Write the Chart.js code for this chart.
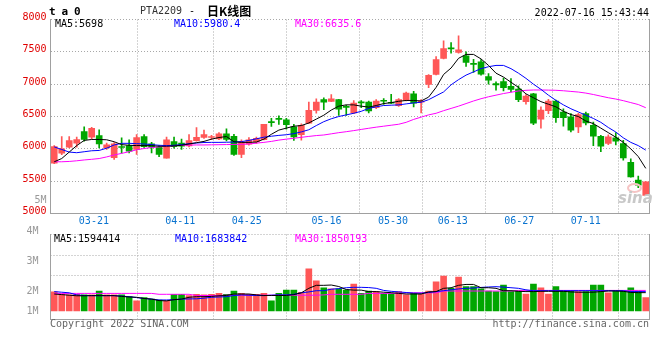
<!DOCTYPE html>
<html>
<head>
<meta charset="utf-8">
<script src="https://cdn.jsdelivr.net/npm/chart.js@4.4.1/dist/chart.umd.min.js"></script>
<style>
html, body { margin: 0; padding: 0; background: #fff; }
#wrap { position: relative; width: 660px; height: 360px; overflow: hidden; }
canvas { position: absolute; left: 0; }
.t { position: absolute; white-space: nowrap; font-family: "DejaVu Sans Mono", monospace; font-size: 10px; line-height: 12px; }
</style>
</head>
<body>
<div id="wrap">
  <canvas id="kline" width="660" height="234" style="top:0"></canvas>
  <canvas id="vol" width="660" height="100" style="top:222px"></canvas>

  <div class="t" style="left:49px;top:5px;font-size:11px;line-height:14px;font-weight:bold;letter-spacing:-0.4px">t a 0</div>
  <div class="t" style="left:140px;top:5px;color:#333">PTA2209</div>
  <div class="t" style="left:189px;top:5px;color:#000">-</div>
  <div class="t" style="left:207px;top:3px;font-family:'Noto Sans CJK SC';font-size:12px;line-height:15px;font-weight:bold;color:#000">日K线图</div>
  <div class="t" style="right:11px;top:7px;color:#000">2022-07-16 15:43:44</div>

  <div class="t" style="left:55px;top:18px;color:#000">MA5:5698</div>
  <div class="t" style="left:174px;top:18px;color:#0000ff">MA10:5980.4</div>
  <div class="t" style="left:295px;top:18px;color:#ff00ff">MA30:6635.6</div>

  <div class="t" style="left:54px;top:233px;color:#000">MA5:1594414</div>
  <div class="t" style="left:175px;top:233px;color:#0000ff">MA10:1683842</div>
  <div class="t" style="left:295px;top:233px;color:#ff00ff">MA30:1850193</div>

  <div class="t" style="left:50px;top:318px;color:#666">Copyright 2022 SINA.COM</div>
  <div class="t" style="right:11px;top:318px;color:#666">http://finance.sina.com.cn</div>

  <div style="position:absolute;left:627px;top:183px;width:11px;height:6px;border:2px solid #f6c4c4;border-radius:50%"></div>
  <div class="t" style="left:618px;top:190px;font-family:'DejaVu Sans';font-size:15px;line-height:16px;font-weight:bold;font-style:italic;color:#c8c8c8">sina</div>
</div>

<script>
// 交易日（03-18 ~ 07-15）
const dates = [
  '03-18','03-21','03-22','03-23','03-24','03-25','03-28','03-29','03-30','03-31',
  '04-01','04-06','04-07','04-08','04-11','04-12','04-13','04-14','04-15','04-18',
  '04-19','04-20','04-21','04-22','04-25','04-26','04-27','04-28','04-29','05-05',
  '05-06','05-09','05-10','05-11','05-12','05-13','05-16','05-17','05-18','05-19',
  '05-20','05-23','05-24','05-25','05-26','05-27','05-30','05-31','06-01','06-02',
  '06-06','06-07','06-08','06-09','06-10','06-13','06-14','06-15','06-16','06-17',
  '06-20','06-21','06-22','06-23','06-24','06-27','06-28','06-29','06-30','07-01',
  '07-04','07-05','07-06','07-07','07-08','07-11','07-12','07-13','07-14','07-15'
];

const open = [
  5780,5932,6025,6087,6265,6180,6205,6015,5862,6030,
  6050,5989,6190,6077,6025,5857,6112,6090,6046,6128,
  6178,6175,6154,6231,6192,5915,6073,6106,6142,6415,
  6465,6449,6342,6218,6395,6595,6760,6734,6760,6656,
  6554,6716,6724,6636,6741,6711,6667,6750,6852,6720,
  6997,7150,7397,7555,7489,7438,7312,7345,7118,7010,
  7040,6965,6925,6730,6850,6460,6590,6740,6570,6495,
  6340,6545,6365,6195,6085,6170,6080,5790,5515,5280
];
const high = [
  6050,6188,6188,6180,6340,6333,6292,6090,6095,6170,
  6140,6220,6220,6100,6050,6180,6180,6150,6220,6330,
  6290,6210,6250,6308,6225,6140,6175,6183,6380,6470,
  6511,6470,6378,6388,6724,6772,6790,6840,6765,6675,
  6748,6748,6740,6760,6776,6842,6778,6878,6888,6760,
  7150,7428,7670,7644,7747,7500,7386,7380,7164,7036,
  7095,7085,6975,6840,6860,6650,6765,6755,6620,6545,
  6550,6570,6415,6210,6215,6250,6130,5845,5580,5495
];
const low = [
  5770,5908,6015,6026,6120,6154,6015,5990,5835,5933,
  5935,5915,6020,5935,5880,5855,6010,5990,6030,6120,
  6160,6140,6140,6123,5900,5865,6055,6085,6137,6346,
  6377,6305,6130,6135,6390,6553,6605,6728,6518,6518,
  6544,6636,6555,6622,6688,6698,6656,6740,6647,6554,
  6945,7143,7390,7479,7480,7273,7180,7140,7000,6907,
  6895,6880,6730,6690,6375,6320,6545,6410,6350,6260,
  6250,6370,6050,5955,6065,6060,5825,5560,5400,5275
];
const close = [
  6035,6000,6128,6144,6145,6318,6077,6060,6077,6020,
  5963,6175,6035,6025,5912,6138,6035,6040,6128,6178,
  6220,6180,6231,6144,5915,6106,6140,6162,6380,6405,
  6455,6372,6185,6364,6595,6724,6720,6775,6615,6640,
  6707,6710,6585,6738,6736,6705,6760,6862,6708,6738,
  7135,7380,7551,7545,7530,7335,7306,7154,7062,6990,
  6945,6920,6760,6815,6395,6600,6740,6480,6480,6290,
  6530,6400,6195,6040,6185,6120,5860,5565,5440,5490
];

const ma5 = [
  5800,5850,5950,6050,6130,6145,6145,6140,6110,6065,
  6055,6050,6050,6048,6040,6040,6045,6055,6075,6095,
  6115,6150,6175,6190,6110,6100,6100,6105,6150,6225,
  6290,6320,6350,6360,6400,6460,6520,6600,6660,6680,
  6680,6660,6645,6670,6700,6715,6735,6748,6748,6740,
  6800,6950,7150,7250,7400,7460,7460,7390,7290,7170,
  7110,7030,6950,6850,6790,6730,6690,6650,6580,6530,
  6500,6430,6390,6320,6250,6180,6100,6000,5880,5698
];
const ma10 = [
  6030,5990,5950,5940,5955,5970,5975,6010,6060,6085,
  6085,6080,6075,6065,6055,6050,6055,6065,6080,6090,
  6098,6100,6100,6102,6105,6112,6130,6155,6180,6195,
  6208,6218,6235,6262,6295,6360,6420,6465,6500,6525,
  6550,6580,6625,6650,6670,6675,6680,6695,6710,6720,
  6760,6820,6880,6990,7070,7140,7190,7240,7270,7290,
  7290,7240,7170,7090,7000,6920,6830,6750,6680,6620,
  6570,6520,6470,6410,6330,6260,6170,6100,6050,5980
];
const ma30 = [
  5800,5800,5805,5815,5828,5838,5850,5875,5905,5930,
  5955,5985,6005,6020,6030,6040,6048,6054,6058,6060,
  6060,6062,6064,6066,6068,6070,6075,6088,6100,6115,
  6135,6150,6163,6178,6192,6205,6214,6232,6250,6265,
  6282,6300,6318,6335,6350,6365,6380,6410,6455,6490,
  6525,6550,6590,6625,6660,6700,6740,6775,6805,6830,
  6855,6875,6895,6905,6910,6910,6908,6905,6898,6888,
  6878,6862,6840,6815,6790,6770,6745,6715,6685,6636
];

// 成交量（百万手，按图上刻度读取）
const volume = [
  2.08,2.01,1.98,2.00,1.98,1.98,2.11,1.98,1.98,1.98,
  1.92,1.78,1.89,1.84,1.81,1.78,2.00,2.00,1.96,2.00,
  1.98,2.00,2.03,2.00,2.11,2.03,2.00,2.00,2.03,1.78,
  2.03,2.14,2.14,2.07,2.85,2.45,2.22,2.18,2.18,2.14,
  2.34,2.03,2.11,2.09,2.03,2.03,2.09,1.98,2.03,2.00,
  2.11,2.42,2.61,2.20,2.58,2.26,2.26,2.18,2.11,2.09,
  2.31,2.09,2.11,2.01,2.34,2.22,2.01,2.26,2.11,2.11,
  2.09,2.09,2.31,2.31,2.05,2.11,2.11,2.22,2.11,1.89
];
const volMa5 = [
  2.01,1.99,1.97,1.95,1.95,1.955,1.955,1.955,1.955,1.93,
  1.91,1.90,1.86,1.84,1.79,1.78,1.82,1.84,1.90,1.92,
  1.92,1.93,1.95,1.96,2.01,2.01,2.01,1.98,1.96,1.96,
  1.96,1.96,1.99,2.05,2.20,2.30,2.30,2.31,2.26,2.16,
  2.14,2.14,2.09,2.09,2.07,2.055,2.03,2.01,2.01,2.01,
  2.08,2.09,2.20,2.22,2.30,2.33,2.33,2.22,2.22,2.20,
  2.12,2.12,2.10,2.09,2.09,2.10,2.10,2.10,2.10,2.08,
  2.07,2.07,2.07,2.09,2.11,2.11,2.10,2.06,2.055,2.055
];
const volMa10 = [
  2.09,2.07,2.05,1.98,1.96,1.955,1.955,1.955,1.955,1.94,
  1.92,1.89,1.86,1.84,1.81,1.81,1.82,1.84,1.845,1.85,
  1.87,1.90,1.91,1.92,1.96,1.98,1.97,1.96,1.955,1.97,
  1.98,1.98,2.00,2.05,2.08,2.12,2.12,2.17,2.19,2.22,
  2.233,2.233,2.225,2.20,2.13,2.10,2.08,2.06,2.04,2.035,
  2.06,2.09,2.12,2.15,2.18,2.20,2.21,2.23,2.245,2.255,
  2.24,2.22,2.20,2.15,2.12,2.12,2.12,2.12,2.12,2.12,
  2.12,2.12,2.12,2.12,2.12,2.12,2.12,2.09,2.09,2.09
];
const volMa30 = [
  2.03,2.03,2.03,2.03,2.03,2.03,2.03,2.03,2.03,2.03,
  2.03,2.03,2.03,2.03,2.00,2.00,2.00,2.00,2.00,1.96,
  1.96,1.96,1.96,1.97,1.97,1.97,1.97,1.97,1.97,1.97,
  1.97,1.97,1.97,1.97,1.97,1.97,1.98,2.00,2.00,2.00,
  2.00,2.00,2.03,2.03,2.03,2.03,2.03,2.05,2.05,2.05,
  2.05,2.05,2.11,2.11,2.11,2.11,2.11,2.11,2.11,2.11,
  2.11,2.11,2.13,2.13,2.13,2.13,2.13,2.13,2.13,2.13,
  2.13,2.13,2.13,2.13,2.13,2.13,2.13,2.13,2.13,2.13
];

const dateTicks = ['03-21','04-11','04-25','05-16','05-30','06-13','06-27','07-11'];
const priceTicks = [5000,5500,6000,6500,7000,7500,8000];
const volTicks = [2,3,4];

const RED = '#ff5757';
const GREEN = '#00a600';
const GRID = '#a8a8a8';
const AXIS = '#a0a0a0';
const mono = { family: 'DejaVu Sans Mono', size: 10 };

const colors = close.map((c, i) => (c >= open[i] ? RED : GREEN));
const bodies = open.map((o, i) => [Math.min(o, close[i]), Math.max(o, close[i])]);
const wicks = low.map((l, i) => [l, high[i]]);
const tickIdx = dateTicks.map(d => dates.indexOf(d));

// 新浪的日期网格线比K线间距略宽，单独用一根线性轴画
const GRID_MIN = 0.105, GRID_MAX = 78.97;
// 主图左侧那个溢出的"5M"刻度
const FIVE_M = 5170;
// 量图底部"1M"标签和柱子起点
const ONE_M_POS = 1.341, VOL_BASE = 1.441;

function fixed(w, h) {
  return s => {
    if (w != null) s.width = w;
    if (h != null) s.height = h;
    s.paddingTop = s.paddingBottom = s.paddingLeft = s.paddingRight = 0;
  };
}

function dateGrid(showLabels) {
  return {
    type: 'linear', position: 'bottom', min: GRID_MIN, max: GRID_MAX,
    afterBuildTicks: s => { s.ticks = tickIdx.map(v => ({ value: v })); },
    ticks: { display: showLabels, autoSkip: false, maxRotation: 0, padding: 2, color: '#0a74d0', font: mono, callback: v => dates[v] },
    grid: { color: GRID, drawTicks: false },
    border: { color: AXIS, dash: [1, 2] },
    afterFit: fixed(null, showLabels ? 20.5 : 2.5)
  };
}

function maLine(data, color) {
  return { type: 'line', data: data, borderColor: color, borderWidth: 1, pointRadius: 0, tension: 0, order: 0 };
}

const common = {
  responsive: false,
  animation: false,
  devicePixelRatio: 1,
  events: [],
  plugins: { legend: { display: false }, tooltip: { enabled: false } }
};

new Chart(document.getElementById('kline'), {
  type: 'bar',
  data: {
    labels: dates,
    datasets: [
      maLine(ma5, '#000000'),
      maLine(ma10, '#0000ff'),
      maLine(ma30, '#ff00ff'),
      { type: 'bar', data: bodies, backgroundColor: colors, barThickness: 6, minBarLength: 1, grouped: false, order: 1 },
      { type: 'bar', data: wicks, backgroundColor: colors, barThickness: 1, grouped: false, order: 2 }
    ]
  },
  options: {
    ...common,
    layout: { padding: { top: 19.5, left: 0, right: 0, bottom: 0 } },
    scales: {
      x: { type: 'category', display: false, offset: true },
      xg: dateGrid(true),
      y: {
        type: 'linear', position: 'left', min: 5000, max: 8000,
        afterBuildTicks: s => { s.ticks = [5000, FIVE_M].concat(priceTicks.slice(1)).map(v => ({ value: v })); },
        ticks: {
          font: mono, padding: 4, labelOffset: -2,
          color: c => (c.tick && c.tick.value === FIVE_M ? '#999999' : '#e00000'),
          callback: v => (v === FIVE_M ? '5M' : String(v))
        },
        grid: { color: c => (c.tick && c.tick.value === FIVE_M ? 'rgba(0,0,0,0)' : GRID), drawTicks: false },
        border: { color: AXIS, dash: [1, 2] },
        afterFit: fixed(50.5)
      },
      yr: {
        type: 'linear', position: 'right', min: 5000, max: 8000,
        ticks: { display: false }, grid: { display: false },
        border: { color: AXIS },
        afterFit: fixed(10.5)
      }
    }
  }
});

new Chart(document.getElementById('vol'), {
  type: 'bar',
  data: {
    labels: dates,
    datasets: [
      maLine(volMa5, '#000000'),
      maLine(volMa10, '#0000ff'),
      maLine(volMa30, '#ff00ff'),
      { type: 'bar', data: volume, backgroundColor: colors, barThickness: 6, base: VOL_BASE, order: 1 }
    ]
  },
  options: {
    ...common,
    layout: { padding: { top: 12.5, left: 0, right: 0, bottom: 0 } },
    scales: {
      x: { type: 'category', display: false, offset: true },
      xg: dateGrid(false),
      y: {
        type: 'linear', position: 'left', min: 1.1572, max: 4,
        afterBuildTicks: s => { s.ticks = [ONE_M_POS].concat(volTicks).map(v => ({ value: v })); },
        ticks: { font: mono, color: '#999999', padding: 4, labelOffset: -3, callback: v => (v === ONE_M_POS ? '1M' : v + 'M') },
        grid: { display: false },
        border: { color: AXIS },
        afterFit: fixed(50.5)
      },
      yg: {
        type: 'linear', position: 'right', min: 0, max: 85, reverse: true,
        afterBuildTicks: s => { s.ticks = [0, 20.5, 41].map(v => ({ value: v })); },
        ticks: { display: false },
        grid: { color: GRID, drawTicks: false },
        border: { color: AXIS, dash: [1, 2] },
        afterFit: fixed(10.5)
      }
    }
  }
});
</script>
</body>
</html>
